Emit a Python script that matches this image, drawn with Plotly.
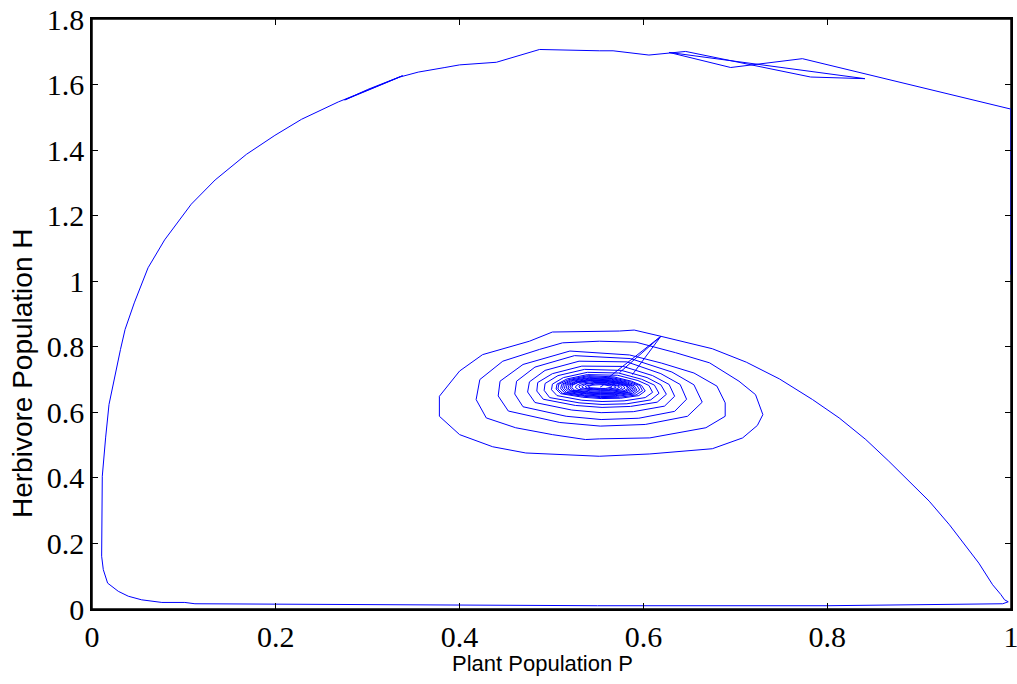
import plotly.graph_objects as go

# ---- trajectory data (P = plant, H = herbivore) ----
start_P = [1.0, 1.0, 0.773, 0.724, 0.695, 0.628, 0.841, 0.782, 0.646, 0.606, 0.567, 0.552,
           0.487, 0.44, 0.40, 0.384, 0.355, 0.335, 0.275, 0.30, 0.338, 0.30, 0.268]
start_H = [1.02, 1.525, 1.679, 1.662, 1.652, 1.698, 1.618, 1.623, 1.701, 1.690, 1.703, 1.703,
           1.707, 1.668, 1.660, 1.652, 1.638, 1.623, 1.553, 1.585, 1.627, 1.583, 1.547]

left_P = [0.228, 0.199, 0.168, 0.134, 0.108, 0.079, 0.061, 0.046, 0.036, 0.031, 0.0185,
          0.0148, 0.0112, 0.0105, 0.0123, 0.017, 0.0286, 0.0395, 0.054, 0.076, 0.101, 0.112]
left_H = [1.494, 1.445, 1.387, 1.309, 1.235, 1.126, 1.041, 0.934, 0.853, 0.792, 0.624,
          0.522, 0.405, 0.161, 0.120, 0.079, 0.054, 0.039, 0.028, 0.020, 0.020, 0.016]

bottom_P = [0.2, 0.3, 0.4, 0.55, 0.8, 0.9, 0.991, 0.997]
bottom_H = [0.015, 0.012, 0.011, 0.010, 0.010, 0.014, 0.016, 0.022]

right_P = [0.993, 0.989, 0.980, 0.965, 0.951, 0.933, 0.911, 0.893, 0.867, 0.842, 0.813,
           0.784, 0.748, 0.712, 0.675, 0.619]
right_H = [0.028, 0.044, 0.074, 0.140, 0.191, 0.257, 0.329, 0.380, 0.451, 0.517, 0.583,
           0.639, 0.702, 0.753, 0.794, 0.832]

ring1_P = [0.590, 0.574, 0.501, 0.476, 0.425, 0.400, 0.378, 0.378, 0.400, 0.436, 0.472, 0.552,
           0.607, 0.675, 0.708, 0.724, 0.730, 0.722, 0.704, 0.672, 0.635, 0.592, 0.552]
ring1_H = [0.851, 0.848, 0.845, 0.817, 0.776, 0.726, 0.649, 0.588, 0.532, 0.495, 0.476, 0.466,
           0.473, 0.489, 0.522, 0.560, 0.593, 0.654, 0.695, 0.751, 0.782, 0.814, 0.817]

ring2_P = [0.512, 0.487, 0.447, 0.422, 0.418, 0.429, 0.461, 0.501, 0.537, 0.552, 0.607, 0.668,
           0.689, 0.689, 0.680, 0.655, 0.620, 0.585]
ring2_H = [0.812, 0.792, 0.756, 0.700, 0.639, 0.583, 0.553, 0.532, 0.517, 0.519, 0.522, 0.553,
           0.588, 0.629, 0.680, 0.720, 0.750, 0.775]

ring3_P = [0.520, 0.469, 0.444, 0.442, 0.453, 0.509, 0.553, 0.602, 0.648, 0.664, 0.655, 0.631, 0.586]
ring3_H = [0.787, 0.746, 0.695, 0.650, 0.604, 0.569, 0.558, 0.563, 0.588, 0.631, 0.684, 0.723, 0.764]

ring4_P = [0.525, 0.482, 0.462, 0.460, 0.469, 0.516, 0.554, 0.595, 0.634, 0.647, 0.640, 0.619, 0.582]
ring4_H = [0.773, 0.738, 0.695, 0.656, 0.617, 0.588, 0.578, 0.582, 0.603, 0.640, 0.685, 0.718, 0.754]

ring5_P = [0.530, 0.493, 0.476, 0.474, 0.482, 0.522, 0.554, 0.589, 0.623, 0.634, 0.628, 0.610, 0.578]
ring5_H = [0.756, 0.728, 0.693, 0.662, 0.630, 0.607, 0.599, 0.602, 0.619, 0.649, 0.685, 0.712, 0.740]

ring6_P = [0.533, 0.501, 0.485, 0.484, 0.491, 0.526, 0.555, 0.586, 0.615, 0.625, 0.619, 0.604, 0.576]
ring6_H = [0.741, 0.718, 0.691, 0.665, 0.640, 0.621, 0.615, 0.618, 0.631, 0.655, 0.684, 0.706, 0.728]

ring7_P = [0.536, 0.507, 0.493, 0.492, 0.498, 0.530, 0.555, 0.582, 0.608, 0.617, 0.612, 0.598, 0.573]
ring7_H = [0.731, 0.712, 0.688, 0.667, 0.645, 0.629, 0.624, 0.626, 0.638, 0.658, 0.683, 0.701, 0.720]

ring8_P = [0.539, 0.513, 0.501, 0.500, 0.506, 0.533, 0.555, 0.579, 0.602, 0.610, 0.606, 0.594, 0.572]
ring8_H = [0.722, 0.706, 0.686, 0.669, 0.651, 0.637, 0.633, 0.635, 0.645, 0.661, 0.682, 0.697, 0.713]

ring9_P = [0.539, 0.517, 0.506, 0.505, 0.510, 0.534, 0.554, 0.575, 0.595, 0.602, 0.598, 0.587, 0.568]
ring9_H = [0.715, 0.702, 0.686, 0.671, 0.657, 0.646, 0.642, 0.643, 0.651, 0.665, 0.682, 0.695, 0.708]

ring9b_P = [0.540, 0.519, 0.508, 0.507, 0.512, 0.535, 0.553, 0.574, 0.592, 0.599, 0.596, 0.585, 0.567]
ring9b_H = [0.712, 0.700, 0.686, 0.671, 0.658, 0.649, 0.645, 0.646, 0.653, 0.666, 0.682, 0.694, 0.705]

ring10_P = [0.540, 0.520, 0.511, 0.510, 0.514, 0.536, 0.553, 0.572, 0.590, 0.596, 0.593, 0.583, 0.566]
ring10_H = [0.709, 0.698, 0.685, 0.672, 0.660, 0.651, 0.648, 0.649, 0.656, 0.668, 0.682, 0.692, 0.703]

ring10b_P = [0.541, 0.522, 0.513, 0.512, 0.516, 0.536, 0.553, 0.570, 0.588, 0.593, 0.590, 0.581, 0.565]
ring10b_H = [0.706, 0.697, 0.685, 0.673, 0.661, 0.653, 0.650, 0.651, 0.658, 0.668, 0.681, 0.691, 0.701]

ring11_P = [0.541, 0.523, 0.515, 0.514, 0.518, 0.537, 0.553, 0.569, 0.586, 0.591, 0.588, 0.579, 0.564]
ring11_H = [0.704, 0.695, 0.684, 0.673, 0.663, 0.656, 0.653, 0.654, 0.660, 0.669, 0.681, 0.690, 0.699]

ring11b_P = [0.542, 0.525, 0.517, 0.516, 0.520, 0.538, 0.553, 0.568, 0.584, 0.589, 0.586, 0.578, 0.563]
ring11b_H = [0.702, 0.693, 0.684, 0.674, 0.665, 0.657, 0.655, 0.656, 0.661, 0.670, 0.681, 0.689, 0.697]

ring12_P = [0.542, 0.526, 0.519, 0.518, 0.521, 0.539, 0.553, 0.568, 0.582, 0.587, 0.584, 0.577, 0.563]
ring12_H = [0.700, 0.692, 0.683, 0.674, 0.666, 0.659, 0.657, 0.658, 0.663, 0.671, 0.681, 0.688, 0.696]

ring12b_P = [0.543, 0.528, 0.521, 0.520, 0.523, 0.540, 0.553, 0.567, 0.580, 0.585, 0.582, 0.575, 0.562]
ring12b_H = [0.698, 0.691, 0.683, 0.675, 0.667, 0.661, 0.659, 0.660, 0.664, 0.672, 0.681, 0.687, 0.694]

ring13_P = [0.543, 0.529, 0.523, 0.522, 0.525, 0.540, 0.553, 0.566, 0.579, 0.583, 0.581, 0.574, 0.562]
ring13_H = [0.697, 0.691, 0.683, 0.675, 0.668, 0.663, 0.661, 0.662, 0.666, 0.673, 0.681, 0.687, 0.693]

ring14_P = [0.545, 0.532, 0.527, 0.526, 0.529, 0.542, 0.553, 0.565, 0.576, 0.580, 0.578, 0.572, 0.561]
ring14_H = [0.694, 0.689, 0.682, 0.676, 0.670, 0.666, 0.664, 0.665, 0.668, 0.674, 0.681, 0.686, 0.691]

ring15_P = [0.546, 0.536, 0.530, 0.530, 0.532, 0.544, 0.553, 0.564, 0.574, 0.577, 0.575, 0.570, 0.560]
ring15_H = [0.691, 0.687, 0.681, 0.677, 0.672, 0.668, 0.667, 0.667, 0.670, 0.675, 0.680, 0.684, 0.689]

ring16_P = [0.547, 0.538, 0.534, 0.533, 0.536, 0.545, 0.553, 0.562, 0.571, 0.574, 0.572, 0.567, 0.559]
ring16_H = [0.689, 0.686, 0.681, 0.677, 0.673, 0.670, 0.669, 0.669, 0.672, 0.676, 0.680, 0.684, 0.687]

ring17_P = [0.548, 0.541, 0.537, 0.537, 0.539, 0.546, 0.553, 0.561, 0.567, 0.570, 0.569, 0.565, 0.558]
ring17_H = [0.687, 0.684, 0.680, 0.677, 0.674, 0.672, 0.671, 0.671, 0.673, 0.676, 0.680, 0.683, 0.685]

ring18_P = [0.549, 0.544, 0.541, 0.540, 0.542, 0.548, 0.553, 0.559, 0.564, 0.566, 0.565, 0.562, 0.557, 0.553]
ring18_H = [0.685, 0.683, 0.680, 0.677, 0.675, 0.673, 0.673, 0.673, 0.675, 0.677, 0.680, 0.682, 0.684, 0.677]

# short straight jumps from the peak of the outer loop into the spiral centre
jump_P = [None, 0.574, 0.619, 0.588, None, 0.562, 0.619]
jump_H = [None, 0.721, 0.832, 0.715, None, 0.706, 0.832]

# tick labels
x_ticks = [0, 0.2, 0.4, 0.6, 0.8, 1]
x_labels = ["0", "0.2", "0.4", "0.6", "0.8", "1"]
y_ticks = [0, 0.2, 0.4, 0.6, 0.8, 1, 1.2, 1.4, 1.6, 1.8]
y_labels = ["0", "0.2", "0.4", "0.6", "0.8", "1", "1.2", "1.4", "1.6", "1.8"]

x_title = "Plant Population P"
y_title = "Herbivore Population H"

segments_P = [start_P, left_P, bottom_P, right_P, ring1_P, ring2_P, ring3_P, ring4_P, ring5_P,
              ring6_P, ring7_P, ring8_P, ring9_P, ring9b_P, ring10_P, ring10b_P, ring11_P,
              ring11b_P, ring12_P, ring12b_P, ring13_P, ring14_P, ring15_P, ring16_P, ring17_P,
              ring18_P, jump_P]
segments_H = [start_H, left_H, bottom_H, right_H, ring1_H, ring2_H, ring3_H, ring4_H, ring5_H,
              ring6_H, ring7_H, ring8_H, ring9_H, ring9b_H, ring10_H, ring10b_H, ring11_H,
              ring11b_H, ring12_H, ring12b_H, ring13_H, ring14_H, ring15_H, ring16_H, ring17_H,
              ring18_H, jump_H]

P = [v for seg in segments_P for v in seg]
H = [v for seg in segments_H for v in seg]

fig = go.Figure()
fig.add_trace(go.Scatter(x=P, y=H, mode="lines",
                         line=dict(color="#0000FF", width=1),
                         connectgaps=False, showlegend=False, hoverinfo="skip",
                         cliponaxis=False))

axis_common = dict(
    showgrid=False, zeroline=False, showline=True, linecolor="black", linewidth=1.5,
    mirror="ticks", ticks="inside", ticklen=6, tickwidth=1, tickcolor="black",
    automargin=False, ticklabeloverflow="allow",
    tickfont=dict(family="Liberation Serif, Times New Roman, serif", size=30, color="black"),
)

fig.update_layout(
    width=1017, height=684,
    margin=dict(l=92, r=6, t=19, b=75),
    paper_bgcolor="white", plot_bgcolor="white",
    xaxis=dict(range=[0, 1], tickvals=x_ticks, ticktext=x_labels, **axis_common),
    yaxis=dict(range=[0, 1.8], tickvals=y_ticks, ticktext=y_labels, **axis_common),
    shapes=[dict(type="rect", xref="paper", yref="paper", x0=0, y0=0, x1=1, y1=1,
                 line=dict(color="black", width=1.5), layer="below")],
    annotations=[
        dict(text=x_title, xref="paper", yref="paper", x=0.49, y=0, yshift=-54,
             xanchor="center", yanchor="middle", showarrow=False,
             font=dict(family="Liberation Sans, Arial, sans-serif", size=22, color="black")),
        dict(text=y_title, xref="paper", yref="paper", x=0, xshift=-70, y=0.40,
             xanchor="center", yanchor="middle", textangle=-90, showarrow=False,
             font=dict(family="Liberation Sans, Arial, sans-serif", size=28, color="black")),
    ],
)

fig.write_html("out.html")
